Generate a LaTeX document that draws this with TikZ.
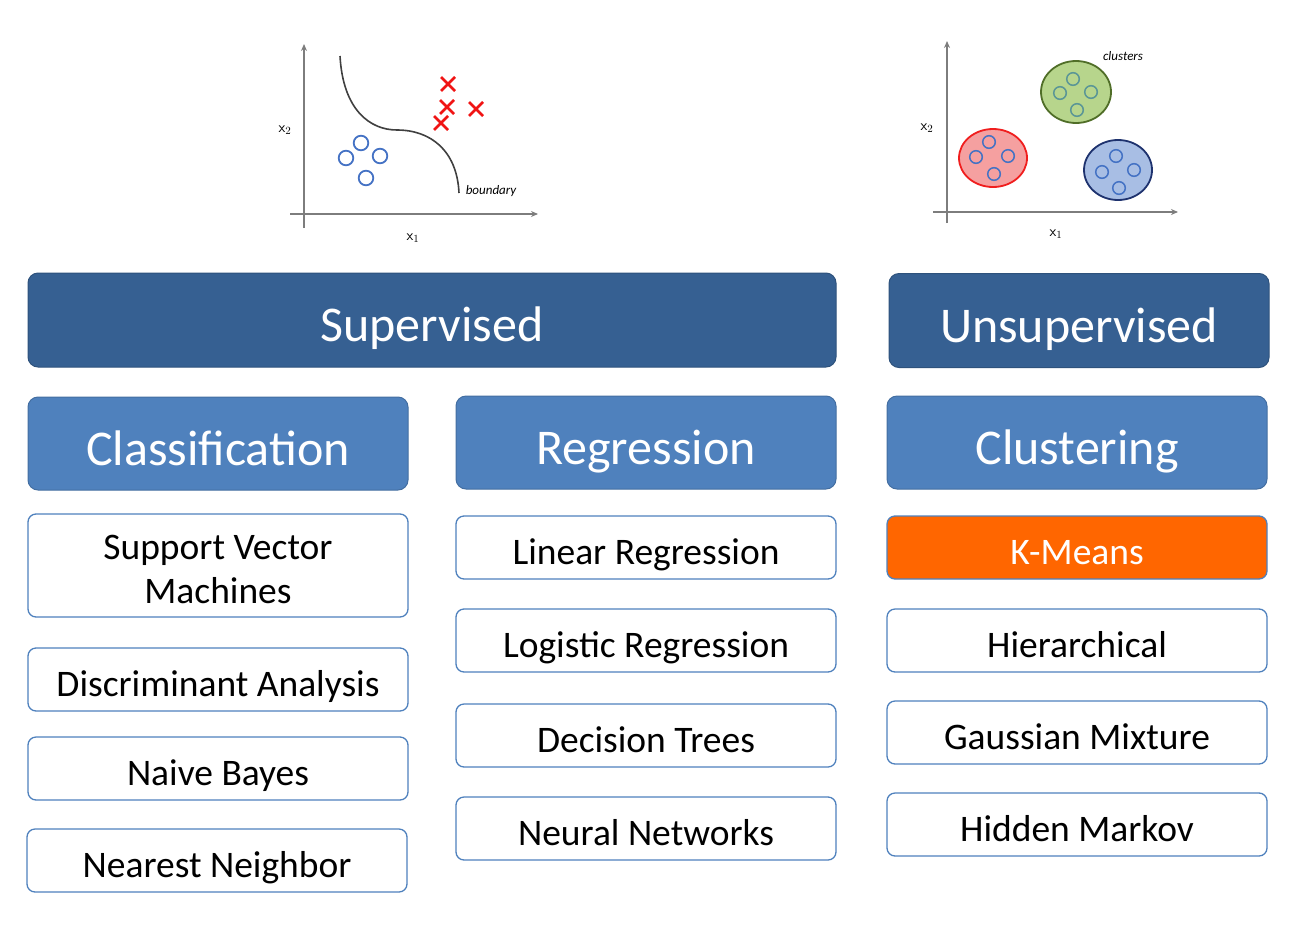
\documentclass[tikz,border=0pt]{standalone}
\usepackage{fontspec}
\setmainfont{Carlito}
\usetikzlibrary{arrows.meta}

\definecolor{darkblue}{RGB}{54,96,146}
\definecolor{midblue}{RGB}{79,129,189}
\definecolor{kmorange}{RGB}{255,102,0}
\definecolor{axisgray}{RGB}{125,125,125}
\definecolor{dotblue}{RGB}{68,114,196}
\definecolor{dotteal}{RGB}{90,150,150}
\definecolor{crossred}{RGB}{240,20,20}
\definecolor{greenfill}{RGB}{183,213,140}
\definecolor{greenline}{RGB}{80,110,40}
\definecolor{redfill}{RGB}{245,160,160}
\definecolor{redline}{RGB}{240,30,30}
\definecolor{bluefill}{RGB}{168,190,228}
\definecolor{blueline}{RGB}{30,50,110}

\begin{document}
\begin{tikzpicture}[x=1pt,y=-1pt,
  header/.style={rounded corners=10pt, fill=darkblue, draw=darkblue!85!black, line width=1pt,
    text=white, font=\fontsize{50}{56}\selectfont, minimum height=94pt, inner sep=0pt,
    text height=49pt, text depth=6pt},
  group/.style={header, fill=midblue, draw=midblue!85!black, minimum width=380pt, minimum height=93pt},
  box/.style={rounded corners=8pt, draw=midblue, line width=1.3pt, fill=white,
    font=\fontsize{37.5}{44}\selectfont, minimum width=380pt, minimum height=63pt, inner sep=0pt, align=center},
  method/.style={box, text height=40pt, text depth=7pt},
  axis/.style={draw=axisgray, line width=1.5pt, -{Stealth[length=7pt,width=6pt]}},
  dot/.style={draw=dotblue, line width=1.8pt},
  cross/.style={draw=crossred, line width=2.6pt},
  tiny/.style={font=\fontsize{15}{16}\sffamily},
  hand/.style={font=\fontsize{13}{14}\selectfont\itshape}]

\useasboundingbox (0,0) rectangle (1306,932);

% supervised sketch
\draw[axis] (290,214) -- (538,214);
\draw[axis] (304,228) -- (304,44);
\node[tiny] (sx2) at (285,130) {x$_2$};
\node[tiny] (sx1) at (413,238) {x$_1$};
\draw[black!75, line width=1.6pt] (340,56) .. controls (343,110) and (370,130) .. (397,130)
  .. controls (430,130) and (457,150) .. (459,193);
\node[hand] (bnd) at (491,191) {boundary};
\foreach \cx/\cy in {448/84, 447/107, 476/109, 441/123}
  \draw[cross] (\cx-7,\cy-7) -- (\cx+7,\cy+7) (\cx-7,\cy+7) -- (\cx+7,\cy-7);
\foreach \cx/\cy in {361/143, 346/158, 380/156, 366/178}
  \draw[dot] (\cx,\cy) circle (7.3);

% unsupervised sketch
\draw[axis] (933,212) -- (1178,212);
\draw[axis] (947,223) -- (947,41);
\node[tiny] (ux2) at (927,128) {x$_2$};
\node[tiny] (ux1) at (1056,234) {x$_1$};
\node[hand] (clu) at (1123,56) {clusters};
\draw[fill=greenfill, draw=greenline, line width=1.8pt] (1076,92) ellipse [x radius=35, y radius=31];
\draw[fill=redfill, draw=redline, line width=1.8pt] (993,158) ellipse [x radius=34, y radius=29];
\draw[fill=bluefill, draw=blueline, line width=1.8pt] (1118,170) ellipse [x radius=34, y radius=30];
\foreach \cx/\cy in {1073/79, 1060/93, 1091/92, 1077/110}
  \draw[dotteal, line width=1.5pt] (\cx,\cy) circle (6.3);
\foreach \cx/\cy in {989/142, 976/157, 1008/156, 994/174, 1116/156, 1102/172, 1134/170, 1119/188}
  \draw[dotblue, line width=1.5pt] (\cx,\cy) circle (6.3);

% headers
\node[header, minimum width=808pt] (sup) at (432,320) {Supervised};
\node[header, minimum width=380pt] (unsup) at (1079,320.5) {Unsupervised};

\node[group] (class) at (218,443.5) {Classification};
\node[group] (regr) at (646,442.5) {Regression};
\node[group] (clust) at (1077,442.5) {Clustering};

% methods
\node[box, minimum height=103pt, text height=76pt, text depth=0pt] (svm) at (218,565.5) {Support Vector\\Machines};
\node[method] (disc) at (218,679.5) {Discriminant Analysis};
\node[method] (bayes) at (218,768.5) {Naive Bayes};
\node[method] (nn) at (217,860.5) {Nearest Neighbor};

\node[method] (linreg) at (646,547.5) {Linear Regression};
\node[method] (logreg) at (646,640.5) {Logistic Regression};
\node[method] (tree) at (646,735.5) {Decision Trees};
\node[method] (neural) at (646,828.5) {Neural Networks};

\node[method, fill=kmorange, text=white] (kmeans) at (1077,547.5) {K-Means};
\node[method] (hier) at (1077,640.5) {Hierarchical};
\node[method] (gauss) at (1077,732.5) {Gaussian Mixture};
\node[method] (hmm) at (1077,824.5) {Hidden Markov};

\end{tikzpicture}
\end{document}
